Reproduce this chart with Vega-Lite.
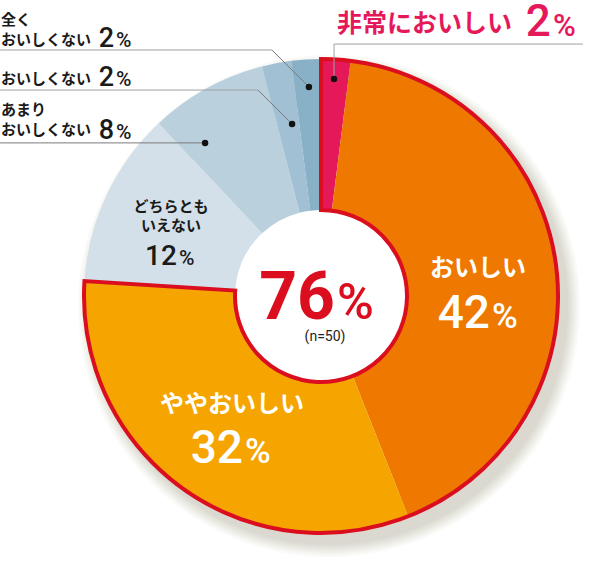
{
"$schema": "https://vega.github.io/schema/vega-lite/v6.json",
"width": 474, "height": 474, "autosize": "none",
"padding": {"left": 84, "top": 59, "right": 47, "bottom": 44},
"background": "#ffffff",
"config": {"view": {"stroke": null}, "axis": {"disable": true}, "legend": {"disable": true}, "text": {"font": "Noto Sans CJK JP"}},
"data": {"values": [
{"category":"非常においしい","label":"非常においしい","share":2,"group":"おいしい計"},
{"category":"おいしい","label":"おいしい","share":42,"group":"おいしい計"},
{"category":"ややおいしい","label":"ややおいしい","share":32,"group":"おいしい計"},
{"category":"どちらともいえない","label":"どちらとも\nいえない","share":12,"group":"その他"},
{"category":"あまりおいしくない","label":"あまり\nおいしくない","share":8,"group":"その他"},
{"category":"おいしくない","label":"おいしくない","share":2,"group":"その他"},
{"category":"全くおいしくない","label":"全く\nおいしくない","share":2,"group":"その他"}
]},
"transform": [{"stack": "share", "groupby": [], "as": ["s0", "s1"]}],
"layer": [
{"transform":[{"aggregate":[{"op":"sum","field":"share","as":"total"}],"groupby":[]}],
 "mark":{"type":"arc","innerRadius":200,"outerRadius":251,"color":"#6b6640","opacity":0.035},
 "encoding":{"theta":{"field":"total","type":"quantitative","scale":{"domain":[0,100]}},"x":{"datum":0.034,"type":"quantitative","scale":{"domain":[-1,1]}},"y":{"datum":-0.042,"type":"quantitative","scale":{"domain":[-1,1]}}}},
{"transform":[{"aggregate":[{"op":"sum","field":"share","as":"total"}],"groupby":[]}],
 "mark":{"type":"arc","innerRadius":200,"outerRadius":249,"color":"#6b6640","opacity":0.035},
 "encoding":{"theta":{"field":"total","type":"quantitative","scale":{"domain":[0,100]}},"x":{"datum":0.034,"type":"quantitative","scale":{"domain":[-1,1]}},"y":{"datum":-0.042,"type":"quantitative","scale":{"domain":[-1,1]}}}},
{"transform":[{"aggregate":[{"op":"sum","field":"share","as":"total"}],"groupby":[]}],
 "mark":{"type":"arc","innerRadius":200,"outerRadius":247,"color":"#6b6640","opacity":0.035},
 "encoding":{"theta":{"field":"total","type":"quantitative","scale":{"domain":[0,100]}},"x":{"datum":0.034,"type":"quantitative","scale":{"domain":[-1,1]}},"y":{"datum":-0.042,"type":"quantitative","scale":{"domain":[-1,1]}}}},
{"transform":[{"aggregate":[{"op":"sum","field":"share","as":"total"}],"groupby":[]}],
 "mark":{"type":"arc","innerRadius":200,"outerRadius":245,"color":"#6b6640","opacity":0.04},
 "encoding":{"theta":{"field":"total","type":"quantitative","scale":{"domain":[0,100]}},"x":{"datum":0.034,"type":"quantitative","scale":{"domain":[-1,1]}},"y":{"datum":-0.042,"type":"quantitative","scale":{"domain":[-1,1]}}}},
{"transform":[{"aggregate":[{"op":"sum","field":"share","as":"total"}],"groupby":[]}],
 "mark":{"type":"arc","innerRadius":200,"outerRadius":243,"color":"#6b6640","opacity":0.04},
 "encoding":{"theta":{"field":"total","type":"quantitative","scale":{"domain":[0,100]}},"x":{"datum":0.034,"type":"quantitative","scale":{"domain":[-1,1]}},"y":{"datum":-0.042,"type":"quantitative","scale":{"domain":[-1,1]}}}},
{"transform":[{"aggregate":[{"op":"sum","field":"share","as":"total"}],"groupby":[]}],
 "mark":{"type":"arc","innerRadius":200,"outerRadius":241,"color":"#6b6640","opacity":0.045},
 "encoding":{"theta":{"field":"total","type":"quantitative","scale":{"domain":[0,100]}},"x":{"datum":0.034,"type":"quantitative","scale":{"domain":[-1,1]}},"y":{"datum":-0.042,"type":"quantitative","scale":{"domain":[-1,1]}}}},
{"transform":[{"aggregate":[{"op":"sum","field":"share","as":"total"}],"groupby":[]}],
 "mark":{"type":"arc","innerRadius":200,"outerRadius":239,"color":"#6b6640","opacity":0.045},
 "encoding":{"theta":{"field":"total","type":"quantitative","scale":{"domain":[0,100]}},"x":{"datum":0.034,"type":"quantitative","scale":{"domain":[-1,1]}},"y":{"datum":-0.042,"type":"quantitative","scale":{"domain":[-1,1]}}}},
{"mark":{"type":"arc","innerRadius":86,"outerRadius":237},
 "encoding":{"theta":{"field":"s0","type":"quantitative","scale":{"domain":[0,100]}},"theta2":{"field":"s1"},
  "color":{"field":"category","type":"nominal","legend":null,"scale":{"domain":["非常においしい","おいしい","ややおいしい","どちらともいえない","あまりおいしくない","おいしくない","全くおいしくない"],"range":["#E5195A","#EE7800","#F5A400","#D3E0E9","#BAD0DD","#A1C0D3","#88B1C8"]}}}},
{"transform":[{"filter":"datum.group === 'おいしい計'"},{"aggregate":[{"op":"min","field":"s0","as":"g0"},{"op":"max","field":"s1","as":"g1"}],"groupby":["group"]}],
 "mark":{"type":"arc","innerRadius":86,"outerRadius":237,"fillOpacity":0,"stroke":"#DA0E1E","strokeWidth":4},
 "encoding":{"theta":{"field":"g0","type":"quantitative","scale":{"domain":[0,100]}},"theta2":{"field":"g1"}}},

{"transform":[{"filter":"datum.category === '非常においしい'"}],
 "mark":{"type":"rule","color":"#a0a0a0","strokeWidth":1},
 "encoding":{"x":{"datum":0.055,"type":"quantitative","scale":{"domain":[-1,1]}},"y":{"datum":1.063,"type":"quantitative","scale":{"domain":[-1,1]}},"x2":{"datum":1.105},"y2":{"datum":1.063}}},
{"transform":[{"filter":"datum.category === '非常においしい'"}],
 "mark":{"type":"rule","color":"#a0a0a0","strokeWidth":1},
 "encoding":{"x":{"datum":0.055,"type":"quantitative","scale":{"domain":[-1,1]}},"y":{"datum":1.063,"type":"quantitative","scale":{"domain":[-1,1]}},"x2":{"datum":0.055},"y2":{"datum":0.916}}},
{"transform":[{"filter":"datum.category === '全くおいしくない'"}],
 "mark":{"type":"rule","color":"#a0a0a0","strokeWidth":1},
 "encoding":{"x":{"datum":-1.354,"type":"quantitative","scale":{"domain":[-1,1]}},"y":{"datum":1.038,"type":"quantitative","scale":{"domain":[-1,1]}},"x2":{"datum":-0.207},"y2":{"datum":1.038}}},
{"transform":[{"filter":"datum.category === '全くおいしくない'"}],
 "mark":{"type":"rule","color":"#7a7a7a","strokeWidth":1},
 "encoding":{"x":{"datum":-0.207,"type":"quantitative","scale":{"domain":[-1,1]}},"y":{"datum":1.038,"type":"quantitative","scale":{"domain":[-1,1]}},"x2":{"datum":-0.051},"y2":{"datum":0.882}}},
{"transform":[{"filter":"datum.category === 'おいしくない'"}],
 "mark":{"type":"rule","color":"#a0a0a0","strokeWidth":1},
 "encoding":{"x":{"datum":-1.354,"type":"quantitative","scale":{"domain":[-1,1]}},"y":{"datum":0.869,"type":"quantitative","scale":{"domain":[-1,1]}},"x2":{"datum":-0.266},"y2":{"datum":0.869}}},
{"transform":[{"filter":"datum.category === 'おいしくない'"}],
 "mark":{"type":"rule","color":"#7a7a7a","strokeWidth":1},
 "encoding":{"x":{"datum":-0.266,"type":"quantitative","scale":{"domain":[-1,1]}},"y":{"datum":0.869,"type":"quantitative","scale":{"domain":[-1,1]}},"x2":{"datum":-0.122},"y2":{"datum":0.726}}},
{"transform":[{"filter":"datum.category === 'あまりおいしくない'"}],
 "mark":{"type":"rule","color":"#7a7a7a","strokeWidth":1},
 "encoding":{"x":{"datum":-1.354,"type":"quantitative","scale":{"domain":[-1,1]}},"y":{"datum":0.646,"type":"quantitative","scale":{"domain":[-1,1]}},"x2":{"datum":-0.489},"y2":{"datum":0.646}}},

{"transform":[{"filter":"datum.category === '非常においしい'"}],
 "mark":{"type":"point","filled":true,"color":"#111111","opacity":1,"size":42},
 "encoding":{"x":{"datum":0.055,"type":"quantitative","scale":{"domain":[-1,1]}},"y":{"datum":0.916,"type":"quantitative","scale":{"domain":[-1,1]}}}},
{"transform":[{"filter":"datum.category === '全くおいしくない'"}],
 "mark":{"type":"point","filled":true,"color":"#111111","opacity":1,"size":42},
 "encoding":{"x":{"datum":-0.051,"type":"quantitative","scale":{"domain":[-1,1]}},"y":{"datum":0.882,"type":"quantitative","scale":{"domain":[-1,1]}}}},
{"transform":[{"filter":"datum.category === 'おいしくない'"}],
 "mark":{"type":"point","filled":true,"color":"#111111","opacity":1,"size":42},
 "encoding":{"x":{"datum":-0.122,"type":"quantitative","scale":{"domain":[-1,1]}},"y":{"datum":0.726,"type":"quantitative","scale":{"domain":[-1,1]}}}},
{"transform":[{"filter":"datum.category === 'あまりおいしくない'"}],
 "mark":{"type":"point","filled":true,"color":"#111111","opacity":1,"size":42},
 "encoding":{"x":{"datum":-0.489,"type":"quantitative","scale":{"domain":[-1,1]}},"y":{"datum":0.646,"type":"quantitative","scale":{"domain":[-1,1]}}}},

{"transform":[{"filter":"datum.category === '非常においしい'"}],
 "mark":{"type":"text","align":"left","baseline":"middle","fontSize":25,"fontWeight":"bold","color":"#E5195A"},
 "encoding":{"x":{"datum":0.068,"type":"quantitative","scale":{"domain":[-1,1]}},"y":{"datum":1.148,"type":"quantitative","scale":{"domain":[-1,1]}},"text":{"field":"label"}}},
{"transform":[{"filter":"datum.category === '非常においしい'"}],
 "mark":{"type":"text","align":"right","baseline":"alphabetic","font":"Roboto","fontSize":44,"fontWeight":500,"color":"#E5195A"},
 "encoding":{"x":{"datum":0.970,"type":"quantitative","scale":{"domain":[-1,1]}},"y":{"datum":1.097,"type":"quantitative","scale":{"domain":[-1,1]}},"text":{"field":"share"}}},
{"transform":[{"filter":"datum.category === '非常においしい'"}],
 "mark":{"type":"text","align":"left","baseline":"alphabetic","font":"Roboto","fontSize":31,"fontWeight":500,"color":"#E5195A"},
 "encoding":{"x":{"datum":0.979,"type":"quantitative","scale":{"domain":[-1,1]}},"y":{"datum":1.097,"type":"quantitative","scale":{"domain":[-1,1]}},"text":{"value":"%"}}},

{"transform":[{"filter":"datum.category === '全くおいしくない'"}],
 "mark":{"type":"text","align":"left","baseline":"top","fontSize":15,"lineHeight":20,"lineBreak":"\n","fontWeight":"bold","color":"#1a1a1a"},
 "encoding":{"x":{"datum":-1.350,"type":"quantitative","scale":{"domain":[-1,1]}},"y":{"datum":1.192,"type":"quantitative","scale":{"domain":[-1,1]}},"text":{"field":"label"}}},
{"transform":[{"filter":"datum.category === '全くおいしくない'"}],
 "mark":{"type":"text","align":"right","baseline":"alphabetic","font":"Roboto","fontSize":27,"fontWeight":500,"color":"#1a1a1a"},
 "encoding":{"x":{"datum":-0.873,"type":"quantitative","scale":{"domain":[-1,1]}},"y":{"datum":1.051,"type":"quantitative","scale":{"domain":[-1,1]}},"text":{"field":"share"}}},
{"transform":[{"filter":"datum.category === '全くおいしくない'"}],
 "mark":{"type":"text","align":"left","baseline":"alphabetic","font":"Roboto","fontSize":21,"fontWeight":500,"color":"#1a1a1a"},
 "encoding":{"x":{"datum":-0.865,"type":"quantitative","scale":{"domain":[-1,1]}},"y":{"datum":1.051,"type":"quantitative","scale":{"domain":[-1,1]}},"text":{"value":"%"}}},

{"transform":[{"filter":"datum.category === 'おいしくない'"}],
 "mark":{"type":"text","align":"left","baseline":"middle","fontSize":15,"fontWeight":"bold","color":"#1a1a1a"},
 "encoding":{"x":{"datum":-1.350,"type":"quantitative","scale":{"domain":[-1,1]}},"y":{"datum":0.915,"type":"quantitative","scale":{"domain":[-1,1]}},"text":{"field":"label"}}},
{"transform":[{"filter":"datum.category === 'おいしくない'"}],
 "mark":{"type":"text","align":"right","baseline":"alphabetic","font":"Roboto","fontSize":27,"fontWeight":500,"color":"#1a1a1a"},
 "encoding":{"x":{"datum":-0.873,"type":"quantitative","scale":{"domain":[-1,1]}},"y":{"datum":0.886,"type":"quantitative","scale":{"domain":[-1,1]}},"text":{"field":"share"}}},
{"transform":[{"filter":"datum.category === 'おいしくない'"}],
 "mark":{"type":"text","align":"left","baseline":"alphabetic","font":"Roboto","fontSize":21,"fontWeight":500,"color":"#1a1a1a"},
 "encoding":{"x":{"datum":-0.865,"type":"quantitative","scale":{"domain":[-1,1]}},"y":{"datum":0.886,"type":"quantitative","scale":{"domain":[-1,1]}},"text":{"value":"%"}}},

{"transform":[{"filter":"datum.category === 'あまりおいしくない'"}],
 "mark":{"type":"text","align":"left","baseline":"top","fontSize":15,"lineHeight":20,"lineBreak":"\n","fontWeight":"bold","color":"#1a1a1a"},
 "encoding":{"x":{"datum":-1.350,"type":"quantitative","scale":{"domain":[-1,1]}},"y":{"datum":0.813,"type":"quantitative","scale":{"domain":[-1,1]}},"text":{"field":"label"}}},
{"transform":[{"filter":"datum.category === 'あまりおいしくない'"}],
 "mark":{"type":"text","align":"right","baseline":"alphabetic","font":"Roboto","fontSize":27,"fontWeight":500,"color":"#1a1a1a"},
 "encoding":{"x":{"datum":-0.873,"type":"quantitative","scale":{"domain":[-1,1]}},"y":{"datum":0.662,"type":"quantitative","scale":{"domain":[-1,1]}},"text":{"field":"share"}}},
{"transform":[{"filter":"datum.category === 'あまりおいしくない'"}],
 "mark":{"type":"text","align":"left","baseline":"alphabetic","font":"Roboto","fontSize":21,"fontWeight":500,"color":"#1a1a1a"},
 "encoding":{"x":{"datum":-0.865,"type":"quantitative","scale":{"domain":[-1,1]}},"y":{"datum":0.662,"type":"quantitative","scale":{"domain":[-1,1]}},"text":{"value":"%"}}},

{"transform":[{"filter":"datum.category === 'おいしい'"}],
 "mark":{"type":"text","align":"center","baseline":"middle","fontSize":24,"fontWeight":"bold","color":"#ffffff"},
 "encoding":{"x":{"datum":0.662,"type":"quantitative","scale":{"domain":[-1,1]}},"y":{"datum":0.114,"type":"quantitative","scale":{"domain":[-1,1]}},"text":{"field":"label"}}},
{"transform":[{"filter":"datum.category === 'おいしい'"}],
 "mark":{"type":"text","align":"right","baseline":"alphabetic","font":"Roboto","fontSize":46,"fontWeight":500,"color":"#ffffff"},
 "encoding":{"x":{"datum":0.713,"type":"quantitative","scale":{"domain":[-1,1]}},"y":{"datum":-0.135,"type":"quantitative","scale":{"domain":[-1,1]}},"text":{"field":"share"}}},
{"transform":[{"filter":"datum.category === 'おいしい'"}],
 "mark":{"type":"text","align":"left","baseline":"alphabetic","font":"Roboto","fontSize":35,"fontWeight":500,"color":"#ffffff"},
 "encoding":{"x":{"datum":0.722,"type":"quantitative","scale":{"domain":[-1,1]}},"y":{"datum":-0.135,"type":"quantitative","scale":{"domain":[-1,1]}},"text":{"value":"%"}}},

{"transform":[{"filter":"datum.category === 'ややおいしい'"}],
 "mark":{"type":"text","align":"center","baseline":"middle","fontSize":24,"fontWeight":"bold","color":"#ffffff"},
 "encoding":{"x":{"datum":-0.376,"type":"quantitative","scale":{"domain":[-1,1]}},"y":{"datum":-0.460,"type":"quantitative","scale":{"domain":[-1,1]}},"text":{"field":"label"}}},
{"transform":[{"filter":"datum.category === 'ややおいしい'"}],
 "mark":{"type":"text","align":"right","baseline":"alphabetic","font":"Roboto","fontSize":46,"fontWeight":500,"color":"#ffffff"},
 "encoding":{"x":{"datum":-0.329,"type":"quantitative","scale":{"domain":[-1,1]}},"y":{"datum":-0.705,"type":"quantitative","scale":{"domain":[-1,1]}},"text":{"field":"share"}}},
{"transform":[{"filter":"datum.category === 'ややおいしい'"}],
 "mark":{"type":"text","align":"left","baseline":"alphabetic","font":"Roboto","fontSize":35,"fontWeight":500,"color":"#ffffff"},
 "encoding":{"x":{"datum":-0.321,"type":"quantitative","scale":{"domain":[-1,1]}},"y":{"datum":-0.705,"type":"quantitative","scale":{"domain":[-1,1]}},"text":{"value":"%"}}},

{"transform":[{"filter":"datum.category === 'どちらともいえない'"}],
 "mark":{"type":"text","align":"center","baseline":"top","fontSize":15,"lineHeight":19,"lineBreak":"\n","fontWeight":"bold","color":"#1a1a1a"},
 "encoding":{"x":{"datum":-0.633,"type":"quantitative","scale":{"domain":[-1,1]}},"y":{"datum":0.405,"type":"quantitative","scale":{"domain":[-1,1]}},"text":{"field":"label"}}},
{"transform":[{"filter":"datum.category === 'どちらともいえない'"}],
 "mark":{"type":"text","align":"right","baseline":"alphabetic","font":"Roboto","fontSize":28,"fontWeight":500,"color":"#1a1a1a"},
 "encoding":{"x":{"datum":-0.608,"type":"quantitative","scale":{"domain":[-1,1]}},"y":{"datum":0.131,"type":"quantitative","scale":{"domain":[-1,1]}},"text":{"field":"share"}}},
{"transform":[{"filter":"datum.category === 'どちらともいえない'"}],
 "mark":{"type":"text","align":"left","baseline":"alphabetic","font":"Roboto","fontSize":21,"fontWeight":500,"color":"#1a1a1a"},
 "encoding":{"x":{"datum":-0.599,"type":"quantitative","scale":{"domain":[-1,1]}},"y":{"datum":0.131,"type":"quantitative","scale":{"domain":[-1,1]}},"text":{"value":"%"}}},

{"transform":[{"filter":"datum.group === 'おいしい計'"},{"aggregate":[{"op":"sum","field":"share","as":"total"}],"groupby":["group"]}],
 "mark":{"type":"text","align":"right","baseline":"alphabetic","font":"Roboto","fontSize":66,"fontWeight":"bold","color":"#DA0E1E"},
 "encoding":{"x":{"datum":0.059,"type":"quantitative","scale":{"domain":[-1,1]}},"y":{"datum":-0.097,"type":"quantitative","scale":{"domain":[-1,1]}},"text":{"field":"total"}}},
{"transform":[{"filter":"datum.group === 'おいしい計'"},{"aggregate":[{"op":"sum","field":"share","as":"total"}],"groupby":["group"]}],
 "mark":{"type":"text","align":"left","baseline":"alphabetic","font":"Roboto","fontSize":50,"fontWeight":500,"color":"#DA0E1E"},
 "encoding":{"x":{"datum":0.068,"type":"quantitative","scale":{"domain":[-1,1]}},"y":{"datum":-0.097,"type":"quantitative","scale":{"domain":[-1,1]}},"text":{"value":"%"}}},
{"transform":[{"filter":"datum.group === 'おいしい計'"},{"aggregate":[{"op":"sum","field":"share","as":"total"}],"groupby":["group"]}],
 "mark":{"type":"text","align":"center","baseline":"middle","font":"Roboto","fontSize":14,"color":"#222222"},
 "encoding":{"x":{"datum":0.017,"type":"quantitative","scale":{"domain":[-1,1]}},"y":{"datum":-0.174,"type":"quantitative","scale":{"domain":[-1,1]}},"text":{"value":"(n=50)"}}}
]
}
